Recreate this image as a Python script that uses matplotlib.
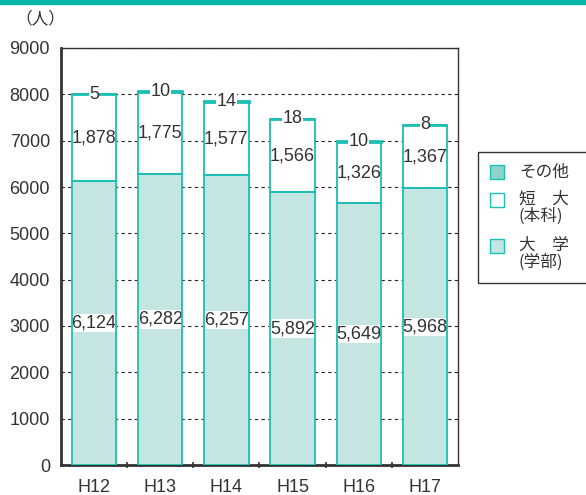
import matplotlib.pyplot as plt
import matplotlib.patches as mpatches
import numpy as np

# data
years = ['H12', 'H13', 'H14', 'H15', 'H16', 'H17']
daigaku = [6124, 6282, 6257, 5892, 5649, 5968]   # 大学(学部)
tandai = [1878, 1775, 1577, 1566, 1326, 1367]    # 短大(本科)
sonota = [5, 10, 14, 18, 10, 8]                  # その他

teal = '#1BBFB3'
light = '#C4E5E2'
dark = '#8ED4CC'
txt = '#333333'
jp = ['Noto Sans CJK JP', 'DejaVu Sans']

plt.rcParams['font.family'] = ['Liberation Sans Narrow', 'Liberation Sans', 'Noto Sans CJK JP', 'DejaVu Sans']

fig = plt.figure(figsize=(5.86, 4.95), dpi=100)
ax = fig.add_axes([61/586, 30/495, 397/586, 417/495])

x = np.arange(len(years))
w = 0.67
b1 = np.array(daigaku)
b2 = b1 + np.array(tandai)

ax.bar(x, daigaku, w, color=light, edgecolor='none', zorder=3)
ax.bar(x, tandai, w, bottom=b1, color='white', edgecolor='none', zorder=3)

# value labels with white boxes
for i in range(len(years)):
    ax.text(x[i], daigaku[i] / 2, format(daigaku[i], ','), ha='center', va='center',
            fontsize=13, color=txt, zorder=5,
            bbox=dict(facecolor='white', edgecolor='none', pad=0.5))
    ax.text(x[i], b1[i] + tandai[i] / 2, format(tandai[i], ','), ha='center', va='center',
            fontsize=13, color=txt, zorder=5,
            bbox=dict(facecolor='white', edgecolor='none', pad=0.5))

# outlines drawn over the label boxes
ax.bar(x, daigaku, w, fill=False, edgecolor=teal, linewidth=1.3, zorder=6)
ax.bar(x, tandai, w, bottom=b1, fill=False, edgecolor=teal, linewidth=1.3, zorder=6)
ax.bar(x, sonota, w, bottom=b2, color=dark, edgecolor=teal, linewidth=2, zorder=6)

for i in range(len(years)):
    ax.text(x[i], b2[i] + sonota[i], str(sonota[i]), ha='center', va='center',
            fontsize=13, color=txt, zorder=7,
            bbox=dict(facecolor='white', edgecolor='none', pad=0.3))

ax.set_xlim(-0.5, 5.5)
ax.set_ylim(0, 9000)
ax.set_yticks(np.arange(0, 9001, 1000))
ax.set_xticks(x)
ax.set_xticklabels(years)
ax.set_xticks(np.arange(0.5, 5.5, 1), minor=True)
ax.tick_params(axis='x', which='major', length=0, pad=10, labelsize=13, labelcolor=txt)
ax.tick_params(axis='x', which='minor', length=4, direction='inout', width=1.2, color='#333333')
ax.tick_params(axis='y', length=0, pad=8, labelsize=13, labelcolor=txt)
ax.grid(axis='y', color='#222222', linestyle=(0, (3, 3)), linewidth=0.8, zorder=0)

for s in ['top', 'right']:
    ax.spines[s].set_linewidth(1.0)
    ax.spines[s].set_color('#333333')
for s in ['left', 'bottom']:
    ax.spines[s].set_linewidth(2.0)
    ax.spines[s].set_color('#333333')

# top band
fig.patches.append(mpatches.Rectangle((0, 1 - 4/495), 1, 4/495, transform=fig.transFigure,
                                      color='#00B5A6', zorder=0))
fig.text(40/586, 1 - 19/495, '（人）', ha='center', va='center', fontsize=12, color=txt,
         family=jp)

# legend box
fig.patches.append(mpatches.Rectangle((478/586, 1 - 283/495), 120/586, 131/495,
                                      transform=fig.transFigure, facecolor='white',
                                      edgecolor='#333333', linewidth=1.0))
leg_items = [(dark, 'その他', 172), ('white', '短　大\n(本科)', 200), (light, '大　学\n(学部)', 246)]
for col, lab, yy in leg_items:
    fig.patches.append(mpatches.Rectangle((490/586, 1 - (yy + 7)/495), 14/586, 14/495,
                                          transform=fig.transFigure, facecolor=col,
                                          edgecolor=teal, linewidth=1.0))
    if '\n' in lab:
        fig.text(519/586, 1 - (yy - 9)/495, lab, ha='left', va='top', fontsize=12, color=txt,
                 linespacing=0.95, family=jp)
    else:
        fig.text(519/586, 1 - yy/495, lab, ha='left', va='center', fontsize=12, color=txt,
                 family=jp)

fig.savefig('out.png', dpi=100)
